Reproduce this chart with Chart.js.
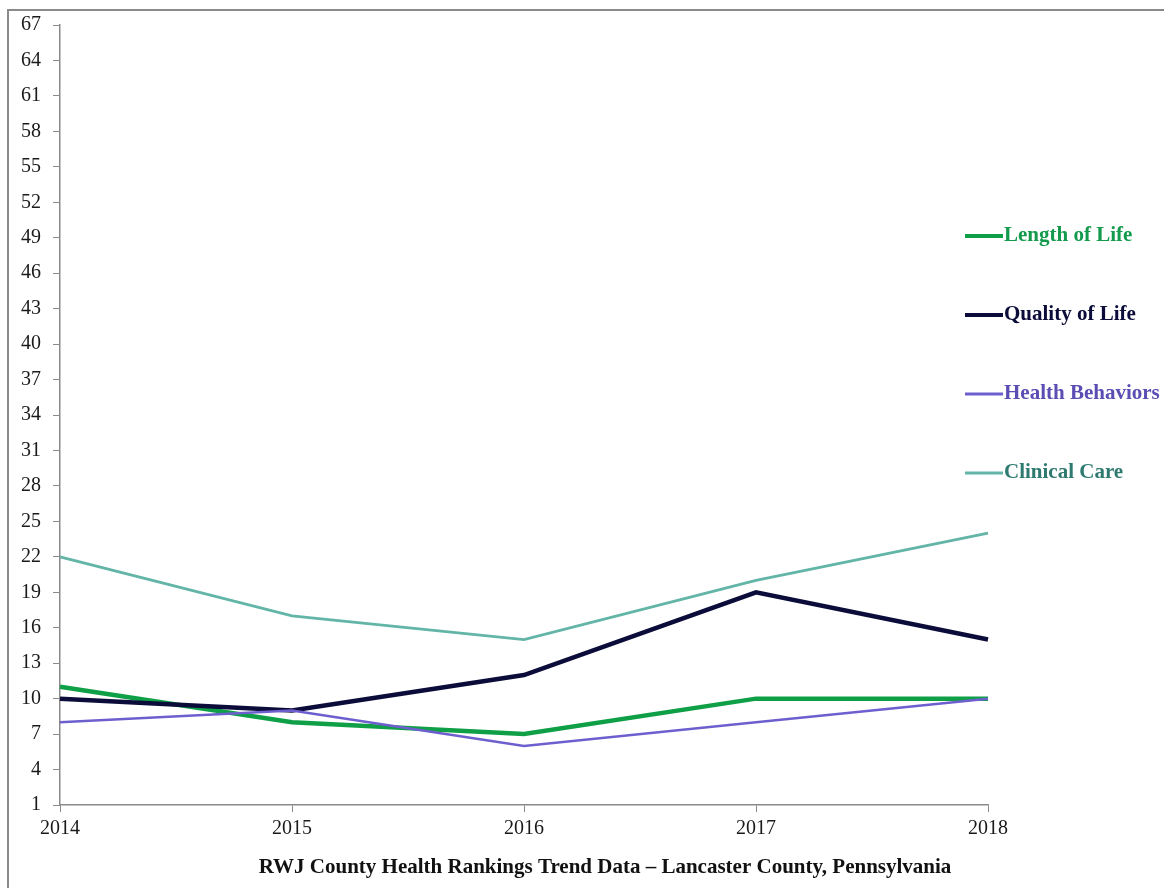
<!DOCTYPE html>
<html>
<head>
<meta charset="utf-8">
<script src="https://cdn.jsdelivr.net/npm/chart.js@4/dist/chart.umd.min.js"></script>
<style>
  html, body { margin: 0; padding: 0; background: #fff; }
  #wrap { width: 1164px; height: 888px; position: relative; }
</style>
</head>
<body>
<div id="wrap"><canvas id="c" width="1164" height="888"></canvas></div>
<script>
const years = ['2014', '2015', '2016', '2017', '2018'];
const lengthOfLife = [11, 8, 7, 10, 10];
const qualityOfLife = [10, 9, 12, 19, 15];
const healthBehaviors = [8, 9, 6, 8, 10];
const clinicalCare = [22, 17, 15, 20, 24];
const seriesNames = ['Length of Life', 'Quality of Life', 'Health Behaviors', 'Clinical Care'];
const chartTitle = 'RWJ County Health Rankings Trend Data \u2013 Lancaster County, Pennsylvania';

const lineColors = ['#0e9f47', '#0c0c3a', '#6e5fcf', '#62b5a7'];
const textColors = ['#139a4c', '#0c0c3a', '#5a4db3', '#2e7a70'];
const widths = [4.5, 4.5, 2.5, 2.8];
const serif = "'Liberation Serif', 'Times New Roman', serif";

const decor = {
  id: 'decor',
  afterDraw(chart) {
    const ctx = chart.ctx;
    ctx.save();
    // frame
    ctx.strokeStyle = '#8a8a8a';
    ctx.lineWidth = 2;
    ctx.strokeRect(8, 10, 1170, 890);
    // legend
    const ys = [236, 315, 394, 473];
    ctx.font = 'bold 21px ' + serif;
    ctx.textBaseline = 'middle';
    ctx.textAlign = 'left';
    seriesNames.forEach((n, i) => {
      ctx.strokeStyle = lineColors[i];
      ctx.lineWidth = widths[i] < 3 ? 3 : 4;
      ctx.beginPath();
      ctx.moveTo(965, ys[i]);
      ctx.lineTo(1003, ys[i]);
      ctx.stroke();
      ctx.fillStyle = textColors[i];
      ctx.fillText(n, 1004, ys[i]);
    });
    // title
    ctx.fillStyle = '#111';
    ctx.textAlign = 'center';
    ctx.fillText(chartTitle, 605, 868);
    ctx.restore();
  }
};

const datasets = [lengthOfLife, qualityOfLife, healthBehaviors, clinicalCare].map((d, i) => ({
  label: seriesNames[i],
  data: d,
  borderColor: lineColors[i],
  backgroundColor: lineColors[i],
  borderWidth: widths[i],
  pointRadius: 0,
  tension: 0,
  fill: false,
  order: i === 3 ? 4 : 3 - i
}));

new Chart(document.getElementById('c'), {
  type: 'line',
  data: { labels: years, datasets },
  options: {
    responsive: false,
    animation: false,
    devicePixelRatio: 1,
    layout: { padding: { left: 0, right: 176, top: 25, bottom: 0 } },
    plugins: { legend: { display: false }, title: { display: false }, tooltip: { enabled: false } },
    scales: {
      x: {
        offset: false,
        grid: { drawOnChartArea: false, drawTicks: true, tickLength: 7, color: '#8a8a8a' },
        border: { color: '#8a8a8a', width: 1.5 },
        ticks: { color: '#1a1a1a', font: { family: serif, size: 20 }, padding: 5, maxRotation: 0 },
        afterFit(s) { s.height = 83; }
      },
      y: {
        min: 1, max: 67,
        grid: { drawOnChartArea: false, drawTicks: true, tickLength: 7, color: '#8a8a8a' },
        border: { color: '#8a8a8a', width: 1.5 },
        ticks: { stepSize: 3, color: '#1a1a1a', font: { family: serif, size: 20 }, padding: 12, autoSkip: false },
        afterFit(s) { s.width = 60; }
      }
    }
  },
  plugins: [decor]
});
</script>
</body>
</html>
